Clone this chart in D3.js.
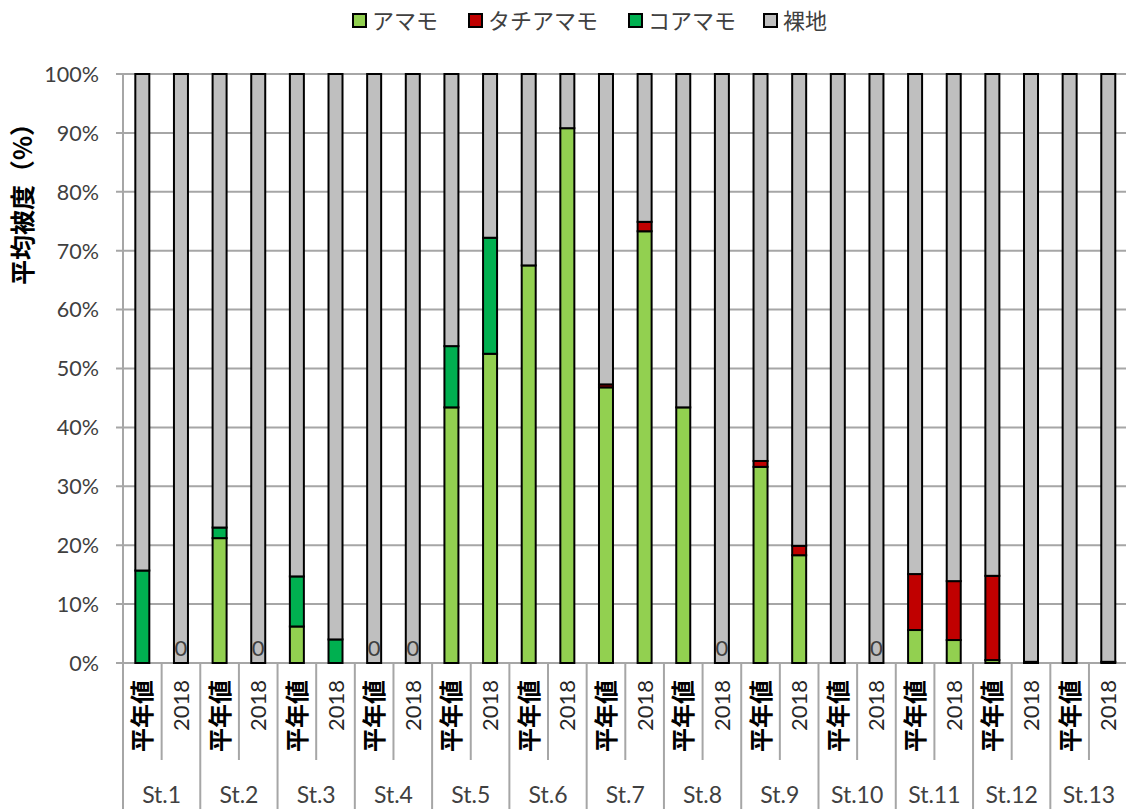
<!DOCTYPE html>
<html><head><meta charset="utf-8">
<script src="https://cdn.jsdelivr.net/npm/d3@7"></script>
<style>body{margin:0;background:#fff}svg{display:block}</style>
</head><body>
<script>
const stations = ["St.1","St.2","St.3","St.4","St.5","St.6","St.7","St.8","St.9","St.10","St.11","St.12","St.13"];
const periods = ["平年値","2018"];
const seriesNames = ["アマモ","タチアマモ","コアマモ","裸地"];
const amamo   = [0,0, 21.2,0, 6.2,0, 0,0, 43.4,52.5, 67.5,90.8, 46.8,73.3, 43.4,0, 33.3,18.3, 0,0, 5.6,3.9, 0.5,0.2, 0,0.2];
const tachi   = [0,0, 0,0, 0,0, 0,0, 0,0, 0,0, 0.5,1.6, 0,0, 1.0,1.6, 0,0, 9.5,10.0, 14.3,0, 0,0];
const koamamo = [15.7,0, 1.8,0, 8.5,4.0, 0,0, 10.4,19.7, 0,0, 0,0, 0,0, 0,0, 0,0, 0,0, 0,0, 0,0];
const zeroLabels = ["","0", "","0", "","", "0","0", "","", "","", "","", "","0", "","", "","0", "","", "","", "",""];
const yTicks = [0,10,20,30,40,50,60,70,80,90,100];
const colors = ["#92d050","#c00000","#00b050","#bfbfbf"];

const W = 1126, H = 809;
const svg = d3.select("body").append("svg").attr("width", W).attr("height", H);

const rows = [];
stations.forEach((s, si) => periods.forEach((p, pi) => {
  const i = si * 2 + pi;
  const bare = Math.max(0, 100 - amamo[i] - tachi[i] - koamamo[i]);
  rows.push({id: i, station: s, period: p, "アマモ": amamo[i], "タチアマモ": tachi[i], "コアマモ": koamamo[i], "裸地": bare, label: zeroLabels[i]});
}));

const x = d3.scaleBand().domain(rows.map(d => d.id)).range([123, 1127.6]).padding(0);
const y = d3.scaleLinear().domain([0, 100]).range([663, 74]);
const color = d3.scaleOrdinal().domain(seriesNames).range(colors);
const latin = "Lato, 'Liberation Sans', sans-serif";
const jp = "'Noto Sans CJK JP', sans-serif";

// gridlines
svg.append("g").selectAll("line").data(yTicks).join("line")
  .attr("x1", 116).attr("x2", W).attr("y1", d => y(d)).attr("y2", d => y(d))
  .attr("stroke", "#a6a6a6").attr("stroke-width", 2);

// y axis labels
const yAxis = d3.axisLeft(y).tickValues(yTicks).tickFormat(d => d + "%").tickSize(0).tickPadding(0);
const gy = svg.append("g").attr("transform", "translate(99,0)").call(yAxis);
gy.select(".domain").remove();
gy.selectAll("text").attr("font-family", latin).attr("font-size", 21.5).attr("fill", "#404040").attr("dy", "0.34em");

// y axis vertical line
svg.append("line").attr("x1", 123).attr("x2", 123).attr("y1", 74).attr("y2", H)
  .attr("stroke", "#a6a6a6").attr("stroke-width", 2);

// bars
const stack = d3.stack().keys(seriesNames)(rows);
const bw = 14;
svg.append("g").selectAll("g").data(stack).join("g")
  .attr("fill", d => color(d.key))
  .selectAll("rect").data(d => d.filter(s => s[1] - s[0] > 0)).join("rect")
  .attr("x", d => x(d.data.id) + x.bandwidth() / 2 - bw / 2)
  .attr("width", bw)
  .attr("y", d => y(d[1]))
  .attr("height", d => y(d[0]) - y(d[1]))
  .attr("stroke", "#000").attr("stroke-width", 2);

// zero data labels
svg.append("g").selectAll("text").data(rows.filter(d => d.label !== "")).join("text")
  .attr("x", d => x(d.id) + x.bandwidth() / 2)
  .attr("y", y(0) - 7)
  .attr("text-anchor", "middle")
  .attr("font-family", latin).attr("font-size", 22).attr("fill", "#404040")
  .text(d => d.label);

// category axis separators
const bounds = d3.range(1, rows.length);
svg.append("g").selectAll("line").data(bounds).join("line")
  .attr("x1", i => x(i)).attr("x2", i => x(i))
  .attr("y1", 663).attr("y2", i => i % 2 === 0 ? H : 760)
  .attr("stroke", "#a6a6a6").attr("stroke-width", 2);

// period labels
svg.append("g").selectAll("text").data(rows).join("text")
  .attr("transform", d => `translate(${x(d.id) + x.bandwidth() / 2 + (d.period === "2018" ? 8 : 9)},680) rotate(-90)`)
  .attr("text-anchor", "end")
  .attr("font-family", d => d.period === "2018" ? latin : jp)
  .attr("font-size", d => d.period === "2018" ? 22 : 24)
  .attr("font-weight", d => d.period === "2018" ? 400 : 700)
  .attr("fill", d => d.period === "2018" ? "#262626" : "#000")
  .text(d => d.period);

// station labels
svg.append("g").selectAll("text").data(stations).join("text")
  .attr("x", (s, si) => x(si * 2 + 1))
  .attr("y", 803)
  .attr("text-anchor", "middle")
  .attr("font-family", latin).attr("font-size", 23).attr("fill", "#404040")
  .text(s => s);

// y title
svg.append("text")
  .attr("transform", "translate(32,198) rotate(-90)")
  .attr("text-anchor", "middle")
  .attr("font-family", jp).attr("font-size", 25).attr("font-weight", 700).attr("fill", "#000")
  .text("平均被度（%）");

// legend
const legendX = [352, 468, 628, 763];
const lg = svg.append("g").selectAll("g").data(seriesNames).join("g")
  .attr("transform", (d, i) => `translate(${legendX[i]},14)`);
lg.append("rect").attr("x", 1).attr("y", 0).attr("width", 13).attr("height", 13)
  .attr("fill", d => color(d)).attr("stroke", "#000").attr("stroke-width", 2);
lg.append("text").attr("x", 20).attr("y", 15)
  .attr("font-family", jp).attr("font-size", 22).attr("fill", "#404040")
  .text(d => d);
</script>
</body></html>
